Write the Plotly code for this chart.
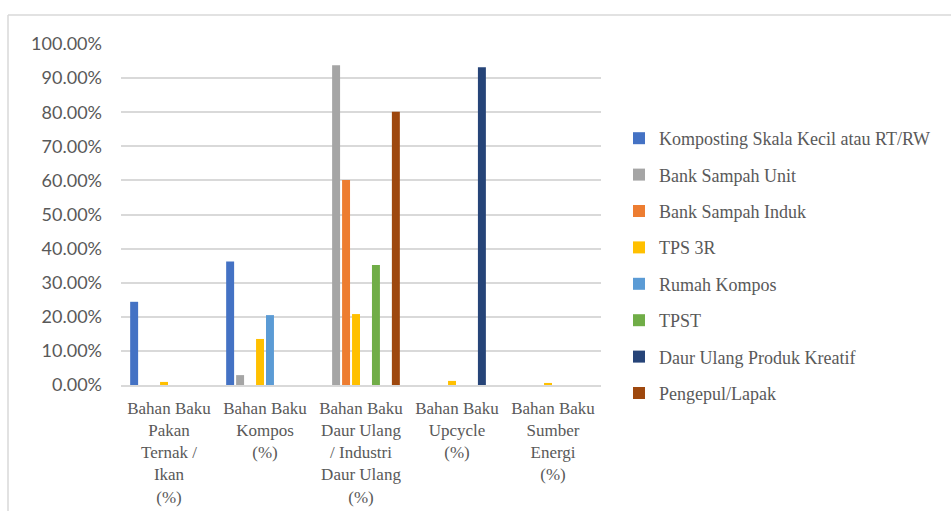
import plotly.graph_objects as go

categories = [
    "Bahan Baku<br>Pakan<br>Ternak /<br>Ikan<br>(%)",
    "Bahan Baku<br>Kompos<br>(%)",
    "Bahan Baku<br>Daur Ulang<br>/ Industri<br>Daur Ulang<br>(%)",
    "Bahan Baku<br>Upcycle<br>(%)",
    "Bahan Baku<br>Sumber<br>Energi<br>(%)",
]

series_names = [
    "Komposting Skala Kecil atau RT/RW",
    "Bank Sampah Unit",
    "Bank Sampah Induk",
    "TPS 3R",
    "Rumah Kompos",
    "TPST",
    "Daur Ulang Produk Kreatif",
    "Pengepul/Lapak",
]

komposting = [24.4, 36.2, 0.0, 0.0, 0.0]
bank_sampah_unit = [0.0, 2.9, 93.8, 0.0, 0.0]
bank_sampah_induk = [0.0, 0.0, 60.1, 0.0, 0.0]
tps_3r = [0.9, 13.5, 20.8, 1.2, 0.6]
rumah_kompos = [0.0, 20.5, 0.0, 0.0, 0.0]
tpst = [0.0, 0.0, 35.2, 0.0, 0.0]
daur_ulang_kreatif = [0.0, 0.0, 0.0, 93.2, 0.0]
pengepul_lapak = [0.0, 0.0, 80.1, 0.0, 0.0]

series_values = [
    komposting, bank_sampah_unit, bank_sampah_induk, tps_3r,
    rumah_kompos, tpst, daur_ulang_kreatif, pengepul_lapak,
]

colors = ["#4472C4", "#A5A5A5", "#ED7D31", "#FFC000",
          "#5B9BD5", "#70AD47", "#264478", "#9E480E"]

fig = go.Figure()
for i, (name, vals, col) in enumerate(zip(series_names, series_values, colors)):
    fig.add_trace(go.Bar(
        x=categories, y=vals, name=name,
        marker=dict(color=col, line=dict(width=0)),
        legendgroup=f"g{i}",
    ))

W, H = 951, 511
L, R, T, B = 121, 350, 44, 126
pw, ph = W - L - R, H - T - B

def px_x(p):
    return (p - L) / pw

def px_y(p):
    return (H - B - p) / ph

grey_text = "#595959"
grid = "#D9D9D9"
serif = "Liberation Serif, Times New Roman, serif"

fig.update_layout(
    width=W, height=H,
    margin=dict(l=L, r=R, t=T, b=B, autoexpand=False),
    paper_bgcolor="white", plot_bgcolor="white",
    barmode="group", bargap=0.17, bargroupgap=0.2,
    showlegend=True,
    legend=dict(
        x=px_x(619), y=px_y(120), xanchor="left", yanchor="top",
        font=dict(family=serif, size=18, color=grey_text),
        traceorder="grouped", tracegroupgap=10,
        itemwidth=30, bgcolor="rgba(0,0,0,0)",
    ),
    xaxis=dict(
        showgrid=False, showline=True, linecolor=grid, linewidth=1.5,
        ticks="", tickangle=0, ticklabelstandoff=7,
        tickfont=dict(family=serif, size=17, color=grey_text),
    ),
    yaxis=dict(
        range=[0, 100], dtick=10, tickformat=".2f", ticksuffix="%",
        showgrid=True, gridcolor=grid, gridwidth=1.5,
        zeroline=False, showline=False, ticks="", ticklabelstandoff=18,
        tickfont=dict(family="Lato", size=18, color=grey_text),
    ),
    shapes=[
        dict(type="line", xref="paper", yref="paper",
             x0=px_x(8), x1=px_x(W + 5), y0=px_y(15), y1=px_y(15),
             line=dict(color=grid, width=1.5)),
        dict(type="line", xref="paper", yref="paper",
             x0=px_x(8), x1=px_x(8), y0=px_y(15), y1=px_y(H + 5),
             line=dict(color=grid, width=1.5)),
    ],
)

fig.write_html("out.html")
